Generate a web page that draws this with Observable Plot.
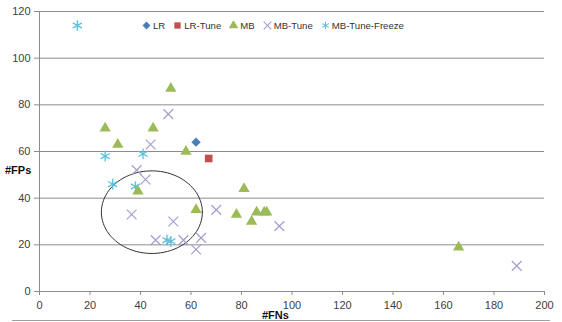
<!DOCTYPE html>
<html>
<head>
<meta charset="utf-8">
<script src="https://cdn.jsdelivr.net/npm/d3@7"></script>
<script src="https://cdn.jsdelivr.net/npm/@observablehq/plot@0.6"></script>
<style>
  html, body { margin: 0; padding: 0; background: #fff; overflow: hidden; }
  #wrap { position: relative; width: 562px; height: 322px; overflow: hidden; font-family: "Liberation Sans", Arial, sans-serif; }
  #legend { position: absolute; top: 20px; left: 142px; display: flex; align-items: center; font-size: 9.6px; color: #333; white-space: nowrap; }
  #legend .item { display: flex; align-items: center; margin-right: 8px; }
  #legend svg { margin-right: 2px; }
  .axlab { position: absolute; font-weight: bold; font-size: 11px; line-height: 12px; color: #111; }
  #bottomline { position: absolute; left: 12px; top: 320px; width: 538px; height: 1px; background: #a0a0a0; }
</style>
</head>
<body>
<div id="wrap">
  <div id="chart"></div>
  <div id="legend"></div>
  <div class="axlab" style="left:5px; top:164px;">#FPs</div>
  <div id="bottomline"></div>
  <div class="axlab" style="left:262px; top:309px;">#FNs</div>
</div>
<script>
// ---- data ----
const seriesNames = ["LR", "LR-Tune", "MB", "MB-Tune", "MB-Tune-Freeze"];
const xTicks = [0, 20, 40, 60, 80, 100, 120, 140, 160, 180, 200];
const yTicks = [0, 20, 40, 60, 80, 100, 120];

const lrFN = [62];
const lrFP = [64];

const lrTuneFN = [67];
const lrTuneFP = [57];

const mbFN = [52, 26, 45, 31, 58, 39, 62, 81, 78, 86, 84, 89, 90, 166];
const mbFP = [87, 70, 70, 63, 60, 43, 35, 44, 33, 34, 30, 34, 34, 19];

const mbTuneFN = [51, 44, 38.5, 42, 36.5, 53, 46, 57, 64, 62, 70, 95, 189];
const mbTuneFP = [76, 63, 52, 48, 33, 30, 22, 22, 23, 18, 35, 28, 11];

const mbFreezeFN = [15, 26, 41, 29, 38, 50.5, 52];
const mbFreezeFP = [114, 58, 59, 46, 45, 22, 21.5];

// annotation ellipse (centre and radii in data units)
const ellipseCenter = [44.5, 34];
const ellipseRadii = [20, 17.7];

const colors = {
  "LR": "#4a7ebb",
  "LR-Tune": "#c0504d",
  "MB": "#9bbb59",
  "MB-Tune": "#a99bd0",
  "MB-Tune-Freeze": "#5bc0de"
};

const toPts = (xs, ys) => xs.map((x, i) => ({x, y: ys[i]}));
const ellipsePts = d3.range(0, 361, 4).map(a => ({
  x: ellipseCenter[0] + ellipseRadii[0] * Math.cos(a * Math.PI / 180),
  y: ellipseCenter[1] + ellipseRadii[1] * Math.sin(a * Math.PI / 180)
}));

const gridCol = "#8c8c8c";
const chart = Plot.plot({
  width: 562,
  height: 322,
  marginLeft: 39,
  marginRight: 18,
  marginTop: 11,
  marginBottom: 31,
  style: { fontFamily: "Liberation Sans, Arial, sans-serif", fontSize: "11px", color: "#404040", background: "white" },
  x: { domain: [0, 200], label: null },
  y: { domain: [0, 120], label: null },
  marks: [
    Plot.ruleY(yTicks.filter(d => d > 0), { stroke: gridCol, strokeWidth: 1 }),
    Plot.ruleY([0], { stroke: gridCol }),
    Plot.ruleX([0], { stroke: gridCol }),
    Plot.axisX({ ticks: xTicks, tickSize: 4, tickPadding: 6, stroke: gridCol, label: null, tickFormat: d => d }),
    Plot.axisY({ ticks: yTicks, tickSize: 5, tickPadding: 4, stroke: gridCol, label: null, tickFormat: d => d }),
    Plot.line(ellipsePts, { x: "x", y: "y", stroke: "#333", strokeWidth: 1, curve: "linear-closed" }),
    Plot.dot(toPts(mbFreezeFN, mbFreezeFP), { x: "x", y: "y", symbol: "asterisk", r: 5, stroke: colors["MB-Tune-Freeze"], strokeWidth: 1.3 }),
    Plot.dot(toPts(mbTuneFN, mbTuneFP), { x: "x", y: "y", symbol: "times", r: 4.5, stroke: colors["MB-Tune"], strokeWidth: 1.2 }),
    Plot.dot(toPts(mbFN, mbFP), { x: "x", y: "y", symbol: "triangle", r: 4.2, fill: colors["MB"], stroke: "none" }),
    Plot.dot(toPts(lrFN, lrFP), { x: "x", y: "y", symbol: "diamond2", r: 4.2, fill: colors["LR"], stroke: "none" }),
    Plot.dot(toPts(lrTuneFN, lrTuneFP), { x: "x", y: "y", symbol: "square", r: 4.3, fill: colors["LR-Tune"], stroke: "none" })
  ]
});
document.getElementById("chart").appendChild(chart);

// ---- legend ----
const symMap = {
  "LR": d3.symbolDiamond2, "LR-Tune": d3.symbolSquare, "MB": d3.symbolTriangle,
  "MB-Tune": d3.symbolTimes, "MB-Tune-Freeze": d3.symbolAsterisk
};
const filled = { "LR": true, "LR-Tune": true, "MB": true, "MB-Tune": false, "MB-Tune-Freeze": false };
const legend = d3.select("#legend");
seriesNames.forEach(name => {
  const item = legend.append("div").attr("class", "item");
  const s = item.append("svg").attr("width", 9).attr("height", 9).attr("viewBox", "-4.5 -4.5 9 9");
  const p = s.append("path").attr("d", d3.symbol(symMap[name], 40)());
  if (filled[name]) p.attr("fill", colors[name]);
  else p.attr("fill", "none").attr("stroke", colors[name]).attr("stroke-width", 1.1);
  item.append("span").text(name);
});
</script>
</body>
</html>
